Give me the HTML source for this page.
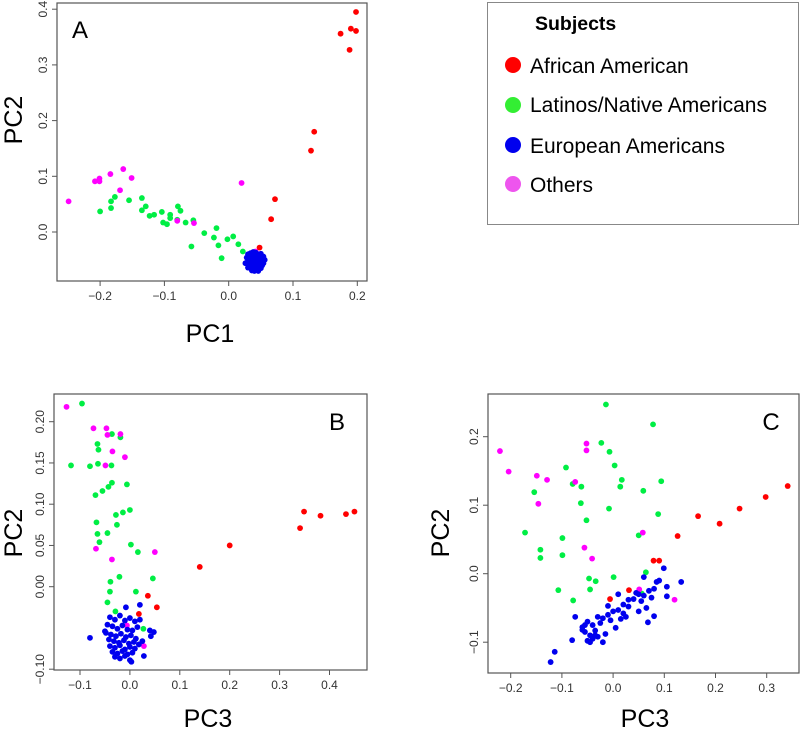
<!DOCTYPE html>
<html><head><meta charset="utf-8"><style>
html,body{margin:0;padding:0;background:#fff;}
svg{display:block;font-family:"Liberation Sans",sans-serif;}
</style></head><body>
<svg id="fig" width="800" height="730" viewBox="0 0 800 730" xmlns="http://www.w3.org/2000/svg">
<g>
<rect x="487.5" y="2.5" width="311" height="222" fill="#fff" stroke="#888" stroke-width="1"/>
<text x="535" y="30" font-size="19.5" font-weight="bold">Subjects</text>
<circle cx="513" cy="65" r="8" fill="#ff0000"/>
<text x="530" y="73" font-size="21">African American</text>
<circle cx="513" cy="105" r="8" fill="#33ee33"/>
<text x="530" y="112" font-size="21">Latinos/Native Americans</text>
<circle cx="513" cy="145" r="8" fill="#0000ee"/>
<text x="530" y="153" font-size="21">European Americans</text>
<circle cx="513" cy="184" r="8" fill="#ee55ee"/>
<text x="530" y="192" font-size="21">Others</text>
</g>
</svg>
<script>
// Panel A data (PC1, PC2)
const aRedX=[0.198,0.174,0.190,0.198,0.188,0.133,0.128,0.072,0.066,0.048];
const aRedY=[0.395,0.356,0.365,0.361,0.327,0.180,0.146,0.059,0.023,-0.028];
const aMagX=[-0.249,-0.208,-0.201,-0.201,-0.184,-0.164,-0.151,-0.169,0.020,-0.054,-0.080,0.042];
const aMagY=[0.055,0.091,0.096,0.091,0.104,0.113,0.097,0.075,0.088,0.016,0.020,-0.035];
const aGrnX=[-0.200,-0.183,-0.183,-0.177,-0.155,-0.135,-0.135,-0.129,-0.123,-0.116,-0.104,-0.102,-0.096,-0.091,-0.091,-0.079,-0.075,-0.080,-0.067,-0.055,-0.058,-0.038,-0.023,-0.019,-0.016,-0.011,-0.002,0.007,0.015,0.022];
const aGrnY=[0.037,0.043,0.055,0.063,0.057,0.061,0.039,0.046,0.029,0.031,0.036,0.017,0.014,0.031,0.025,0.046,0.038,0.022,0.017,0.021,-0.026,-0.002,-0.010,0.007,-0.024,-0.047,-0.013,-0.008,-0.022,-0.035];
const aBluX=[0.030,0.034,0.038,0.042,0.046,0.050,0.054,0.028,0.032,0.036,0.040,0.044,0.048,0.052,0.056,0.030,0.034,0.038,0.042,0.046,0.050,0.054,0.026,0.032,0.036,0.040,0.044,0.048,0.052,0.034,0.038,0.042,0.046,0.050,0.040,0.046,0.036,0.044,0.030,0.052];
const aBluY=[-0.040,-0.038,-0.036,-0.037,-0.040,-0.039,-0.044,-0.046,-0.045,-0.044,-0.043,-0.046,-0.045,-0.047,-0.050,-0.052,-0.053,-0.051,-0.052,-0.054,-0.053,-0.056,-0.056,-0.059,-0.060,-0.058,-0.059,-0.061,-0.060,-0.065,-0.066,-0.064,-0.067,-0.065,-0.070,-0.070,-0.069,-0.062,-0.064,-0.050];
// Panel B data (PC3, PC2)
const bRedX=[0.349,0.341,0.382,0.433,0.450,0.200,0.140,0.036,0.054,0.018];
const bRedY=[0.091,0.071,0.086,0.088,0.091,0.050,0.024,-0.011,-0.025,-0.033];
const bMagX=[-0.127,-0.073,-0.047,-0.045,-0.019,-0.035,-0.010,-0.049,-0.068,-0.036,0.050,-0.006,0.028];
const bMagY=[0.218,0.192,0.192,0.184,0.185,0.164,0.157,0.147,0.046,0.033,0.042,-0.047,-0.072];
const bGrnX=[-0.096,-0.118,-0.036,-0.019,-0.065,-0.063,-0.080,-0.064,-0.037,-0.036,-0.043,-0.055,-0.069,-0.006,0.000,-0.014,-0.028,-0.026,-0.067,-0.065,-0.045,-0.061,0.002,0.016,0.046,-0.021,-0.039,-0.040,0.012,-0.045,-0.029,0.027];
const bGrnY=[0.222,0.147,0.185,0.181,0.173,0.166,0.146,0.149,0.147,0.126,0.121,0.116,0.111,0.124,0.093,0.090,0.087,0.075,0.078,0.064,0.065,0.054,0.051,0.042,0.010,0.012,0.006,-0.006,-0.006,-0.019,-0.030,-0.051];
const bBluX=[-0.080,-0.008,0.020,0.028,0.048,-0.040,-0.030,-0.020,-0.010,0.000,0.010,0.020,-0.045,-0.035,-0.025,-0.015,-0.005,0.005,0.015,0.040,-0.048,-0.038,-0.028,-0.018,-0.008,0.002,0.012,0.042,-0.042,-0.032,-0.022,-0.012,-0.002,0.008,0.018,-0.040,-0.030,-0.020,-0.010,0.000,0.010,-0.035,-0.025,-0.015,-0.005,0.005,-0.030,-0.020,-0.010,0.000,0.003,-0.050,0.025];
const bBluY=[-0.062,-0.025,-0.022,-0.084,-0.055,-0.037,-0.040,-0.035,-0.041,-0.038,-0.042,-0.040,-0.046,-0.048,-0.051,-0.047,-0.052,-0.053,-0.049,-0.053,-0.056,-0.058,-0.060,-0.057,-0.061,-0.059,-0.063,-0.060,-0.064,-0.066,-0.068,-0.065,-0.069,-0.067,-0.070,-0.072,-0.074,-0.071,-0.076,-0.073,-0.075,-0.079,-0.081,-0.078,-0.082,-0.080,-0.085,-0.087,-0.084,-0.089,-0.091,-0.054,-0.066];
// Panel C data (PC3, PC2)
const cRedX=[0.341,0.298,0.247,0.208,0.166,0.126,0.079,0.090,0.031,-0.006];
const cRedY=[0.128,0.112,0.095,0.073,0.084,0.055,0.019,0.019,-0.024,-0.037];
const cMagX=[-0.221,-0.204,-0.149,-0.129,-0.146,-0.052,-0.052,-0.074,-0.056,-0.041,0.058,0.120,0.051];
const cMagY=[0.179,0.149,0.143,0.137,0.102,0.190,0.180,0.134,0.038,0.022,0.060,-0.038,-0.023];
const cGrnX=[-0.014,0.078,-0.023,-0.007,-0.092,0.003,0.017,0.014,0.094,0.059,-0.079,-0.062,-0.154,-0.063,-0.008,0.088,-0.052,-0.172,-0.099,-0.142,-0.142,-0.099,0.050,0.064,0.001,-0.047,-0.034,-0.107,-0.045,-0.078,0.056];
const cGrnY=[0.247,0.218,0.191,0.178,0.155,0.158,0.137,0.127,0.135,0.121,0.131,0.127,0.119,0.103,0.095,0.087,0.078,0.060,0.052,0.035,0.023,0.027,0.056,0.002,-0.005,-0.007,-0.011,-0.024,-0.023,-0.039,-0.029];
const cBluX=[-0.122,-0.114,-0.080,-0.074,0.099,0.133,0.105,0.105,0.080,0.068,-0.060,-0.050,-0.040,-0.030,-0.020,-0.010,0.000,0.010,0.020,0.030,0.040,0.050,0.060,0.070,0.085,-0.055,-0.045,-0.035,-0.025,-0.015,-0.005,0.005,0.015,0.025,0.045,0.055,0.075,0.090,-0.050,-0.040,-0.030,-0.020,-0.045,-0.035,-0.055,0.010,0.030,0.050,0.065,0.080,-0.010,0.020,-0.060,0.060];
const cBluY=[-0.129,-0.114,-0.097,-0.063,0.008,-0.012,-0.019,-0.033,-0.062,-0.071,-0.078,-0.070,-0.075,-0.063,-0.065,-0.060,-0.055,-0.053,-0.045,-0.038,-0.037,-0.030,-0.032,-0.025,-0.012,-0.085,-0.090,-0.083,-0.072,-0.088,-0.068,-0.079,-0.066,-0.063,-0.028,-0.040,-0.035,-0.010,-0.098,-0.095,-0.092,-0.100,-0.100,-0.090,-0.075,-0.030,-0.048,-0.055,-0.050,-0.022,-0.047,-0.058,-0.082,-0.005];
// Tick values
const aXTicks=[-0.2,-0.1,0.0,0.1,0.2];
const aYTicks=[0.0,0.1,0.2,0.3,0.4];
const aYTickLabels=["0.0","0.1","0.2","0.3","0.4"];
const bXTicks=[-0.1,0.0,0.1,0.2,0.3,0.4];
const bYTicks=[-0.10,0.00,0.05,0.10,0.15,0.20];
const bYTickLabels=["\u22120.10","0.00","0.05","0.10","0.15","0.20"];
const cXTicks=[-0.2,-0.1,0.0,0.1,0.2,0.3];
const cYTicks=[-0.1,0.0,0.1,0.2];
const cYTickLabels=["\u22120.1","0.0","0.1","0.2"];

const NS="http://www.w3.org/2000/svg";
const svg=document.getElementById('fig');
const COL={red:"#ff0000",grn:"#00ee44",blu:"#0000ee",mag:"#ff00ff"};
function mk(tag,parent){const e=document.createElementNS(NS,tag);parent.appendChild(e);return e;}
function fmtX(v){const s=v.toFixed(1);return v<0?"\u2212"+s.slice(1):s;}

function panel(id,box,xs,ys,xTicks,yTicks,yLabels,series,letter,letterPos,xTitle,xTitlePos,yTitlePos){
  const g=mk('g',svg);
  
  
  const rect=mk('rect',g);
  
  
  rect.setAttribute('x',box.x0);rect.setAttribute('y',box.y0);
  rect.setAttribute('width',box.x1-box.x0);rect.setAttribute('height',box.y1-box.y0);
  rect.setAttribute('fill','none');rect.setAttribute('stroke','#555');rect.setAttribute('stroke-width','1.2');
  xTicks.forEach(v=>{
    const px=xs(v);
    const t=mk('line',g);
    
    
    t.setAttribute('x1',px);t.setAttribute('x2',px);t.setAttribute('y1',box.y1);t.setAttribute('y2',box.y1+5);t.setAttribute('stroke','#555');
    const l=mk('text',g);
    
    
    l.setAttribute('x',px);l.setAttribute('y',box.y1+19);l.setAttribute('text-anchor','middle');l.setAttribute('font-size','12');l.setAttribute('fill','#333');
    l.textContent=fmtX(v);
  });
  yTicks.forEach((v,i)=>{
    const py=ys(v);
    const t=mk('line',g);
    
    
    t.setAttribute('x1',box.x0-5);t.setAttribute('x2',box.x0);t.setAttribute('y1',py);t.setAttribute('y2',py);t.setAttribute('stroke','#555');
    const l=mk('text',g);
    
    
    const lx=box.x0-10;
    l.setAttribute('x',lx);l.setAttribute('y',py);l.setAttribute('text-anchor','middle');l.setAttribute('font-size','12');l.setAttribute('fill','#333');
    l.setAttribute('transform','rotate(-90 '+lx+' '+py+')');
    l.textContent=yLabels[i];
  });
  series.forEach(s=>{
    s.x.forEach((v,i)=>{
      const c=mk('circle',g);
      
      
      c.setAttribute('cx',xs(v));c.setAttribute('cy',ys(s.y[i]));c.setAttribute('r','2.9');c.setAttribute('fill',s.color);
    });
  });
  const L=mk('text',g);
  
  
  L.setAttribute('x',letterPos[0]);L.setAttribute('y',letterPos[1]);L.setAttribute('font-size','24');L.setAttribute('text-anchor','middle');
  L.textContent=letter;
  const xt=mk('text',g);
  
  
  xt.setAttribute('x',xTitlePos[0]);xt.setAttribute('y',xTitlePos[1]);xt.setAttribute('font-size','25');xt.setAttribute('text-anchor','middle');
  xt.textContent=xTitle;
  const yt=mk('text',g);
  
  
  yt.setAttribute('x',yTitlePos[0]);yt.setAttribute('y',yTitlePos[1]);yt.setAttribute('font-size','25');yt.setAttribute('text-anchor','middle');
  yt.setAttribute('transform','rotate(-90 '+yTitlePos[0]+' '+yTitlePos[1]+')');
  yt.textContent='PC2';
}
function ser(name,color,x,y){return {name:name,color:color,x:x,y:y};}

panel('panel-a',{x0:57,y0:3,x1:367,y1:281},v=>228.7+v*643,v=>232-v*557,aXTicks,aYTicks,aYTickLabels,
  [ser('latino',COL.grn,aGrnX,aGrnY),ser('others',COL.mag,aMagX,aMagY),ser('european',COL.blu,aBluX,aBluY),ser('african',COL.red,aRedX,aRedY)],
  'A',[80,38],'PC1',[210,342],[22,120]);
panel('panel-b',{x0:54,y0:394,x1:367,y1:670},v=>129.9+v*499,v=>586.7-v*825,bXTicks,bYTicks,bYTickLabels,
  [ser('latino',COL.grn,bGrnX,bGrnY),ser('others',COL.mag,bMagX,bMagY),ser('european',COL.blu,bBluX,bBluY),ser('african',COL.red,bRedX,bRedY)],
  'B',[337,430],'PC3',[208,727],[22,533]);
panel('panel-c',{x0:488,y0:394,x1:799,y1:673},v=>613.1+v*512,v=>573.7-v*685,cXTicks,cYTicks,cYTickLabels,
  [ser('latino',COL.grn,cGrnX,cGrnY),ser('others',COL.mag,cMagX,cMagY),ser('european',COL.blu,cBluX,cBluY),ser('african',COL.red,cRedX,cRedY)],
  'C',[771,430],'PC3',[645,727],[449,533]);
</script>
</body></html>
